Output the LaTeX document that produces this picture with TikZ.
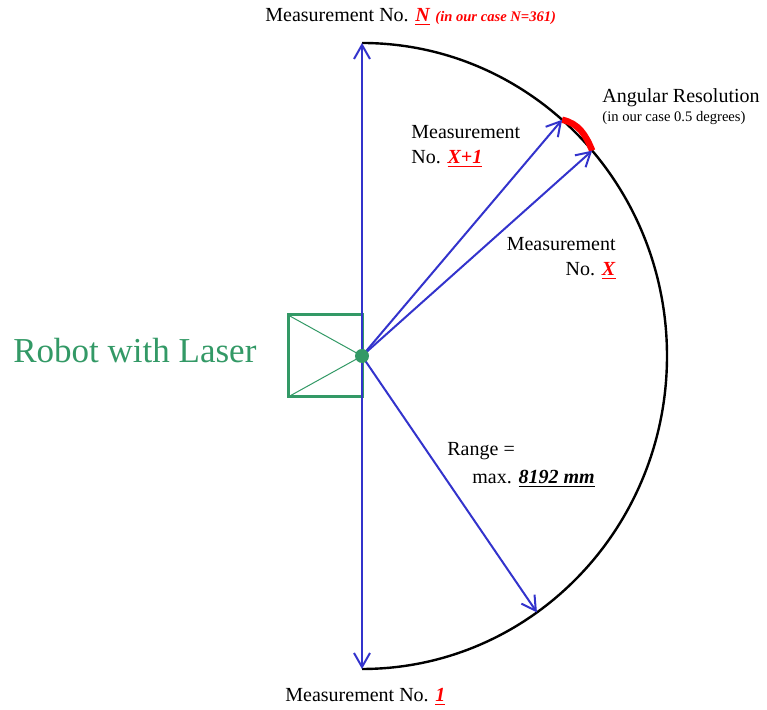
\documentclass[tikz,border=0pt]{standalone}
\usepackage{fontspec}
\setmainfont{Liberation Serif}
\usetikzlibrary{arrows.meta}
\definecolor{Beam}{HTML}{3333CC}
\definecolor{Robot}{HTML}{339966}
\definecolor{Mark}{HTML}{FF0000}
\newcommand{\marked}[1]{\textcolor{Mark}{\underline{\textbf{\textit{#1}}}}}

\begin{document}
\begin{tikzpicture}[x=0.5pt, y=0.5pt,
            beam/.style={draw=Beam, line width=1pt, -{Straight Barb[length=7pt, width=8pt, line width=1pt]}},
            caption/.style={inner sep=0pt, align=left, font=\fontsize{10}{12.5}\selectfont},
            scan/.style={x radius=305, y radius=313}]
            \useasboundingbox (0,0) rectangle (767,710);
            \coordinate (laser) at (362,354);
            % points on the scanned range
            \path (laser) ++(90:305 and 313) coordinate (mN);
            \path (laser) ++(-90:305 and 313) coordinate (mOne);
            \path (laser) ++(49:305 and 313) coordinate (mXp);
            \path (laser) ++(41:305 and 313) coordinate (mX);
            \path (laser) ++(-55:305 and 313) coordinate (range);

            % robot box
            \draw[Robot, line width=1.5pt] (288,313) rectangle (laser |- 395,395);
            \draw[Robot, line width=0.5pt] (288,395) -- (laser) -- (288,313);

            \draw[line width=1.2pt] (mN) arc[start angle=90, end angle=-90, scan];
            \draw[Mark, line width=3.2pt] (mXp) to[out=-12, in=112] (mX);

            \draw[beam] (laser) -- (mN);
            \draw[beam] (laser) -- (mOne);
            \draw[beam] (laser) -- (mXp);
            \draw[beam] (laser) -- (mX);
            \draw[beam] (laser) -- (range);
            \fill[Robot] (laser) circle (7);

            \node[caption, anchor=base west] (topLabel) at (265,688)
                {Measurement No. \marked{N} \textcolor{Mark}{\fontsize{7.3}{9}\selectfont\textbf{\textit{(in our case N=361)}}}};
            \node[caption, anchor=base west] (bottomLabel) at (285,8) {Measurement No. \marked{1}};
            \node[caption, anchor=north west] (labelXp) at (411,585) {Measurement\\No. \marked{X+1}};
            \node[caption, anchor=north east, align=right] (labelX) at (616,473) {Measurement\\No. \marked{X}};
            \node[caption, anchor=north west] (resolution) at (602,622)
                {Angular Resolution\\[-3pt]{\fontsize{7.3}{9}\selectfont(in our case 0.5 degrees)}};
            \node[caption, anchor=north west] (rangeLabel) at (447,268)
                {Range =\\[1.5pt]\hspace*{12.5pt}max. \underline{\textbf{\textit{8192 mm}}}};
            \node[inner sep=0pt, anchor=base west, text=Robot, font=\fontsize{17.5}{20}\selectfont] (robotLabel) at (13,347) {Robot with Laser};
        \end{tikzpicture}
\end{document}
